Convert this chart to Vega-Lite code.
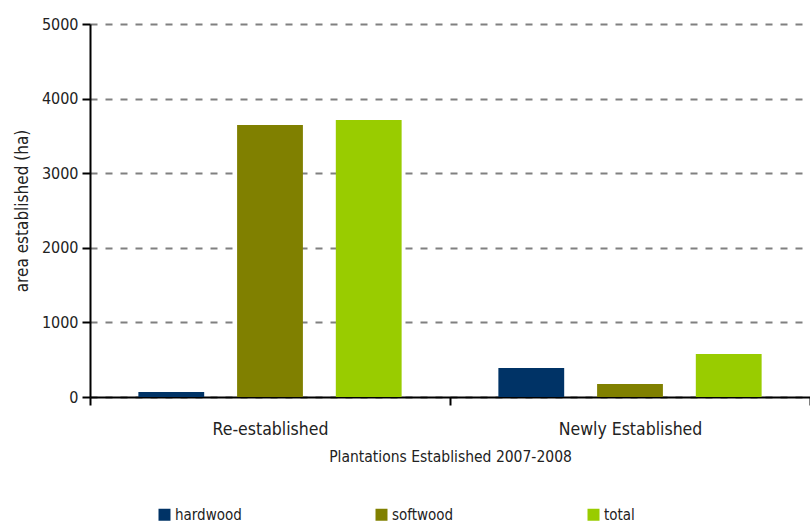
{
  "$schema": "https://vega.github.io/schema/vega-lite/v6.json",
  "autosize": {"type": "none"},
  "padding": {"left": 90, "top": 24, "right": 0, "bottom": 126},
  "width": 720,
  "height": 373,
  "background": "white",
  "data": {
    "values": [
      {"category": "Re-established", "type": "hardwood", "area": 67},
      {"category": "Re-established", "type": "softwood", "area": 3646},
      {"category": "Re-established", "type": "total", "area": 3713},
      {"category": "Newly Established", "type": "hardwood", "area": 389},
      {"category": "Newly Established", "type": "softwood", "area": 174},
      {"category": "Newly Established", "type": "total", "area": 576}
    ]
  },
  "mark": {"type": "bar"},
  "encoding": {
    "x": {
      "field": "category",
      "type": "nominal",
      "sort": ["Re-established", "Newly Established"],
      "scale": {"paddingInner": 0, "paddingOuter": 0},
      "axis": {
        "title": "Plantations Established 2007-2008",
        "titleFontSize": 15.5,
        "titleFontWeight": "normal",
        "titleColor": "#222222",
        "titlePadding": 12,
        "labelFontSize": 17.5,
        "labelColor": "#222222",
        "labelAngle": 0,
        "labelPadding": 15,
        "domainColor": "#000000",
        "domainWidth": 2,
        "tickColor": "#000000",
        "tickWidth": 2,
        "tickSize": 8,
        "tickBand": "extent",
        "grid": false
      }
    },
    "xOffset": {
      "field": "type",
      "type": "nominal",
      "sort": ["hardwood", "softwood", "total"],
      "scale": {"paddingInner": 0.3333, "paddingOuter": 0.49}
    },
    "y": {
      "field": "area",
      "type": "quantitative",
      "scale": {"domain": [0, 5000], "nice": false},
      "axis": {
        "title": "area established (ha)",
        "titleFontSize": 17,
        "titleFontWeight": "normal",
        "titleColor": "#222222",
        "titlePadding": 10,
        "values": [0, 1000, 2000, 3000, 4000, 5000],
        "format": "d",
        "labelFontSize": 16,
        "labelColor": "#222222",
        "labelPadding": 4,
        "domainColor": "#000000",
        "domainWidth": 2,
        "tickColor": "#000000",
        "tickWidth": 2,
        "tickSize": 8,
        "grid": true,
        "gridColor": "#808080",
        "gridWidth": 2,
        "gridDash": [7, 8]
      }
    },
    "color": {
      "field": "type",
      "type": "nominal",
      "sort": ["hardwood", "softwood", "total"],
      "scale": {"domain": ["hardwood", "softwood", "total"], "range": ["#003366", "#808000", "#99CC00"]},
      "legend": {
        "title": null,
        "orient": "none",
        "direction": "horizontal",
        "legendX": 67,
        "legendY": 483,
        "symbolType": "square",
        "symbolSize": 144,
        "symbolStrokeWidth": 0,
        "labelFontSize": 15,
        "labelColor": "#222222",
        "labelOffset": 3,
        "columnPadding": 132
      }
    }
  },
  "config": {
    "view": {"stroke": null},
    "font": "Liberation Sans Narrow, Arial Narrow, DejaVu Sans Condensed, Liberation Sans"
  }
}
